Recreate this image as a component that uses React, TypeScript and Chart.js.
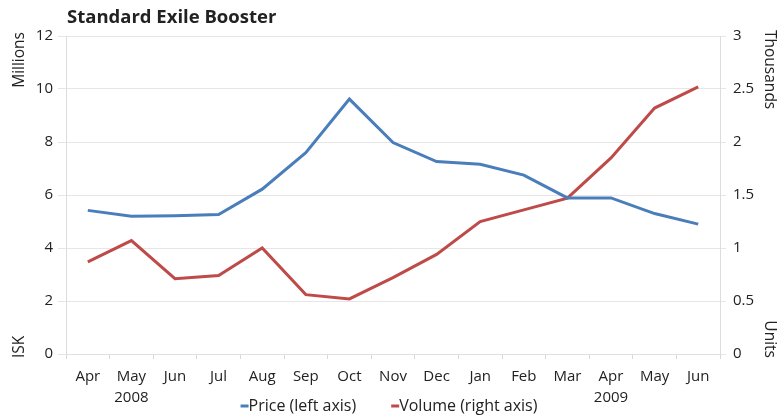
import React, { useEffect, useRef } from 'react';
import { Chart, registerables } from 'chart.js';
Chart.register(...registerables);

const months = ["Apr","May","Jun","Jul","Aug","Sep","Oct","Nov","Dec","Jan","Feb","Mar","Apr","May","Jun"];
const years = ["","2008","","","","","","","","","","","2009","",""];
const price = [5.42,5.2,5.22,5.26,6.22,7.6,9.62,7.98,7.26,7.16,6.75,5.89,5.89,5.3,4.9];
const volume = [0.87,1.07,0.71,0.74,1.0,0.56,0.52,0.72,0.94,1.25,1.36,1.47,1.85,2.32,2.52];
const chartTitle = "Standard Exile Booster";
const leftTitles = ["Millions", "ISK"];
const rightTitles = ["Thousands", "Units"];
const seriesNames = ["Price (left axis)", "Volume (right axis)"];
const BLUE = "#4a7ebb";
const RED = "#be4b48";
const FONT = "'Open Sans', sans-serif";

const overlay = {
  id: 'overlay',
  afterDraw(chart: any) {
    const ctx = chart.ctx;
    const ca = chart.chartArea;
    ctx.save();
    ctx.fillStyle = '#222';
    ctx.font = `bold 18.5px ${FONT}`;
    ctx.textBaseline = 'alphabetic';
    ctx.textAlign = 'left';
    ctx.fillText(chartTitle, ca.left + 1, 23);

    ctx.font = `15.5px ${FONT}`;
    ctx.textBaseline = 'middle';
    // left titles
    ctx.save();
    ctx.translate(20, ca.top - 4);
    ctx.rotate(-Math.PI / 2);
    ctx.textAlign = 'right';
    ctx.fillText(leftTitles[0], 0, 0);
    ctx.restore();
    ctx.save();
    ctx.translate(20, ca.bottom + 4);
    ctx.rotate(-Math.PI / 2);
    ctx.textAlign = 'left';
    ctx.fillText(leftTitles[1], 0, 0);
    ctx.restore();
    // right titles
    ctx.save();
    ctx.translate(769, ca.top - 6);
    ctx.rotate(Math.PI / 2);
    ctx.textAlign = 'left';
    ctx.fillText(rightTitles[0], 0, 0);
    ctx.restore();
    ctx.save();
    ctx.translate(769, ca.bottom + 4);
    ctx.rotate(Math.PI / 2);
    ctx.textAlign = 'right';
    ctx.fillText(rightTitles[1], 0, 0);
    ctx.restore();

    // legend
    ctx.font = `16px ${FONT}`;
    const colors = [BLUE, RED];
    const sw = 8, gap = 35;
    const widths = seriesNames.map((n) => sw + ctx.measureText(n).width);
    const total = widths[0] + gap + widths[1];
    let x = chart.width / 2 - total / 2;
    const y = 406;
    seriesNames.forEach((n, i) => {
      ctx.strokeStyle = colors[i];
      ctx.lineWidth = 3;
      ctx.beginPath();
      ctx.moveTo(x, y);
      ctx.lineTo(x + sw, y);
      ctx.stroke();
      ctx.fillStyle = '#222';
      ctx.textAlign = 'left';
      ctx.fillText(n, x + sw, y);
      x += widths[i] + gap;
    });
    ctx.restore();
  },
};

export default function App() {
  const ref = useRef<HTMLCanvasElement>(null);
  useEffect(() => {
    const chart = new Chart(ref.current!, {
      type: 'line',
      data: {
        labels: months.map((m, i) => [m, years[i]]),
        datasets: [
          { label: seriesNames[0], data: price, borderColor: BLUE, backgroundColor: BLUE, borderWidth: 3, pointRadius: 0, yAxisID: 'y', tension: 0 },
          { label: seriesNames[1], data: volume, borderColor: RED, backgroundColor: RED, borderWidth: 3, pointRadius: 0, yAxisID: 'y1', tension: 0 },
        ],
      },
      options: {
        animation: false,
        responsive: true,
        maintainAspectRatio: false,
        layout: { padding: { top: 36, left: 0, right: 0, bottom: 0 } },
        plugins: { legend: { display: false }, title: { display: false }, tooltip: { enabled: false } },
        scales: {
          x: {
            offset: true,
            grid: { display: true, drawOnChartArea: false, drawTicks: true, tickLength: 5, color: '#d8d8d8', offset: true },
            border: { display: true, color: '#e0e0e0' },
            ticks: { color: '#222', font: { family: FONT, size: 15, lineHeight: 1.35 }, padding: 8, maxRotation: 0, autoSkip: false },
            afterFit: (s: any) => { s.height = 62; },
          },
          y: {
            position: 'left',
            min: 0, max: 12,
            ticks: { stepSize: 2, color: '#222', font: { family: FONT, size: 15 }, padding: 5, callback: (v: any) => String(v) },
            grid: { color: '#e6e6e6', tickLength: 8 },
            border: { display: true, color: '#dcdcdc' },
            afterFit: (s: any) => { s.width = 66; },
          },
          y1: {
            position: 'right',
            min: 0, max: 3,
            ticks: { stepSize: 0.5, color: '#222', font: { family: FONT, size: 15 }, padding: 7, callback: (v: any) => String(v) },
            grid: { drawOnChartArea: false, color: '#e6e6e6', tickLength: 6 },
            border: { display: true, color: '#dcdcdc' },
            afterFit: (s: any) => { s.width = 58; },
          },
        },
      },
      plugins: [overlay],
    });
    return () => chart.destroy();
  }, []);
  return (
    <div style={{ position: 'absolute', left: 0, top: 0, width: 778, height: 416, background: '#fff' }}>
      <canvas ref={ref} />
    </div>
  );
}
